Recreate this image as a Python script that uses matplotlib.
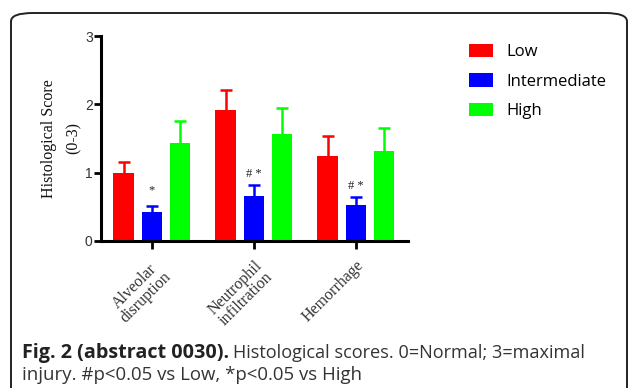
import numpy as np
import matplotlib
matplotlib.use("Agg")
import matplotlib.pyplot as plt
from matplotlib.patches import FancyBboxPatch, Patch

# Histological scores per injury category and group
categories = ['Alveolar\ndisruption', 'Neutrophil\ninfiltration', 'Hemorrhage']
groups = ['Low', 'Intermediate', 'High']
low_mean = [1.00, 1.92, 1.24]
low_err = [0.16, 0.29, 0.30]
mid_mean = [0.42, 0.66, 0.52]
mid_err = [0.09, 0.16, 0.13]
high_mean = [1.44, 1.57, 1.31]
high_err = [0.31, 0.37, 0.34]
mid_marks = ['*', '# *', '# *']
mark_heights = [0.74, 0.98, 0.80]

colors = ['#ff0000', '#0000ff', '#00ff00']

fig = plt.figure(figsize=(6.3, 3.88), dpi=100)

# rounded frame around figure + caption
frame = FancyBboxPatch((11 / 630, -0.2), 616 / 630, 1.2 - 13 / 388,
                       boxstyle='round,pad=0,rounding_size=0.035',
                       transform=fig.transFigure, fill=False,
                       edgecolor='#222222', linewidth=1.4, mutation_aspect=388 / 630)
fig.patches.append(frame)

ax = fig.add_axes([101 / 630, 1 - 241 / 388, 307 / 630, 205 / 388])
x = np.arange(len(categories))
offset = 0.275
width = 0.205
series = [(low_mean, low_err), (mid_mean, mid_err), (high_mean, high_err)]
for i, (m, e) in enumerate(series):
    xs = x + (i - 1) * offset
    # symmetric bars; the lower half is hidden behind the bar
    ax.errorbar(xs, m, yerr=e, fmt='none', ecolor=colors[i],
                elinewidth=1.8, capsize=4.5, capthick=1.8, zorder=1)
    ax.bar(xs, m, width, color=colors[i], zorder=2)

for xi, txt, h in zip(x, mid_marks, mark_heights):
    ax.text(xi, h, txt, ha='center', va='center', fontsize=9,
            family='Liberation Serif', color='#222222')

ax.set_xlim(-0.5, 2.51)
ax.set_ylim(0, 3)
ax.set_yticks([0, 1, 2, 3])
ax.set_xticks(x)
ax.set_xticklabels(categories, rotation=45, ha='right', va='top',
                   rotation_mode='anchor', multialignment='center',
                   family='Liberation Serif', fontsize=11.5, color='#333333',
                   linespacing=1.0)
for lbl in ax.get_yticklabels():
    lbl.set_family('Liberation Sans')
    lbl.set_fontsize(10)
    lbl.set_color('#333333')
ax.spines['top'].set_visible(False)
ax.spines['right'].set_visible(False)
ax.spines['left'].set_linewidth(2.2)
ax.spines['bottom'].set_linewidth(2.2)
ax.tick_params(axis='y', length=5, width=2, pad=1)
ax.tick_params(axis='x', length=6, width=2, pad=6)
ax.set_ylabel('Histological Score\n(0-3)', family='Liberation Serif', fontsize=11.5,
              color='#111111', labelpad=2, linespacing=1.75)

handles = [Patch(facecolor=c, edgecolor='none') for c in colors]
fig.legend(handles, groups, loc='upper left', bbox_to_anchor=(454 / 630, 1 - 29 / 388),
           frameon=False, prop={'family': 'Open Sans', 'size': 12},
           handlelength=1.45, handleheight=0.85, handletextpad=0.8, labelspacing=0.78)

fig.text(22 / 630, 1 - 358 / 388, 'Fig. 2 (abstract 0030).', family='Open Sans',
         weight='bold', fontsize=14.2, va='baseline', color='#222222')
fig.text(233 / 630, 1 - 358 / 388, 'Histological scores. 0=Normal; 3=maximal',
         family='Open Sans', fontsize=13.1, va='baseline', color='#333333')
fig.text(22 / 630, 1 - 380 / 388, 'injury. #p<0.05 vs Low, *p<0.05 vs High',
         family='Open Sans', fontsize=13.4, va='baseline', color='#333333')

fig.savefig('out.png', dpi=100)
